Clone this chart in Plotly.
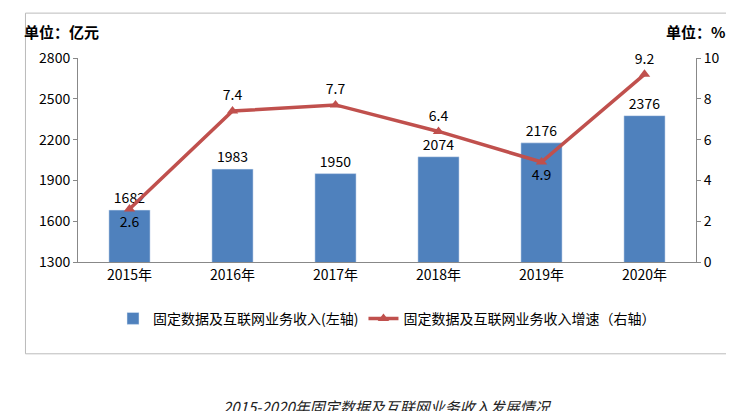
import plotly.graph_objects as go

years = ["2015年", "2016年", "2017年", "2018年", "2019年", "2020年"]
revenue = [1682, 1983, 1950, 2074, 2176, 2376]
growth = [2.6, 7.4, 7.7, 6.4, 4.9, 9.2]
left_ticks = [1300, 1600, 1900, 2200, 2500, 2800]

font = "Noto Sans CJK SC"
fig = go.Figure()
fig.add_trace(go.Bar(x=years, y=revenue, name="固定数据及互联网业务收入(左轴)",
                     marker_color="#4f81bd", width=0.4, text=[str(v) for v in revenue],
                     textposition="outside", textfont=dict(size=14, color="#000"),
                     cliponaxis=False))
fig.add_trace(go.Scatter(x=years, y=growth, name="固定数据及互联网业务收入增速（右轴）",
                         yaxis="y2", mode="lines+markers+text",
                         line=dict(color="#c0504d", width=3.5),
                         marker=dict(symbol="triangle-up", size=10, color="#c0504d"),
                         text=[str(v) for v in growth],
                         textposition=["bottom center", "top center", "top center", "top center", "bottom center", "top center"],
                         textfont=dict(size=14, color="#000"), cliponaxis=False))
fig.update_layout(
    width=734, height=411, plot_bgcolor="white", paper_bgcolor="white",
    font=dict(family=font, size=14, color="#000"),
    margin=dict(l=70, r=46, t=50, b=157),
    xaxis=dict(showline=True, linecolor="#888", ticks="", tickfont=dict(size=14)),
    yaxis=dict(range=[1300, 2800], tickmode="array", tickvals=left_ticks, showgrid=False, showline=True,
               linecolor="#888", ticks="outside", ticklen=4, tickcolor="#888", tickfont=dict(size=14)),
    yaxis2=dict(range=[0, 10], dtick=2, overlaying="y", side="right", showgrid=False,
                showline=True, linecolor="#888", ticks="outside", ticklen=4, tickcolor="#888",
                tickfont=dict(size=14)),
    legend=dict(orientation="h", x=0.5, xanchor="center", y=-0.2, yanchor="top",
                font=dict(size=14)),
    showlegend=True,
    annotations=[
        dict(text="<b>单位：亿元</b>", xref="paper", yref="paper", x=-0.09, y=1.19,
             xanchor="left", yanchor="top", showarrow=False, font=dict(size=15)),
        dict(text="<b>单位：%</b>", xref="paper", yref="paper", x=1.05, y=1.19,
             xanchor="right", yanchor="top", showarrow=False, font=dict(size=15)),
        dict(text="<i>2015-2020年固定数据及互联网业务收入发展情况</i>", xref="paper", yref="paper",
             x=0.5, y=-0.71, xanchor="center", yanchor="middle", showarrow=False,
             font=dict(size=15, color="#222")),
    ],
    shapes=[dict(type="rect", xref="paper", yref="paper", x0=-0.085, x1=1.055, y0=-0.45, y1=1.22,
                 line=dict(color="#bbb", width=1))],
)
fig.write_html("out.html")
